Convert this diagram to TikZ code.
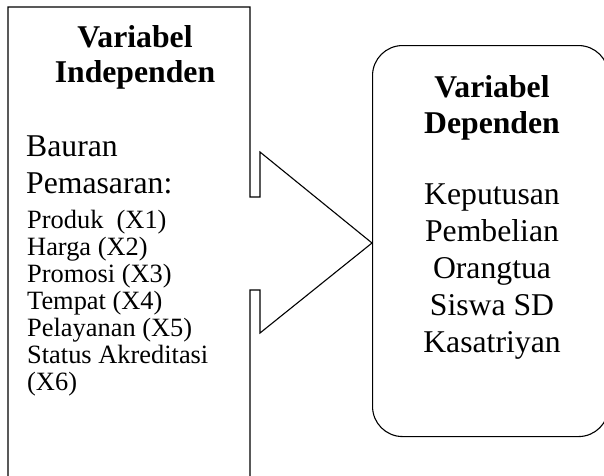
\documentclass[tikz,border=0pt]{standalone}
\usepackage{fontspec}
\setmainfont{Liberation Serif}
\tikzset{
  outline/.style={draw=black, line width=1.1pt, line join=miter},
  bigtxt/.style={inner sep=0pt, font=\fontsize{31.7}{36.8}\selectfont},
  bigbold/.style={inner sep=0pt, font=\fontsize{31.7}{36.8}\selectfont\bfseries},
  smalltxt/.style={inner sep=0pt, font=\fontsize{26.4}{27}\selectfont},
}
\begin{document}
\begin{tikzpicture}[x=1pt,y=-1pt]
\useasboundingbox (0,0) rectangle (604,475);
\clip (0,0) rectangle (604,475);
% right rounded box
\node[outline, rounded corners=30pt, minimum width=236pt, minimum height=391pt,
      anchor=north west, inner sep=0pt] (dep) at (372,45) {};
% left box merged with block arrow
\coordinate (tip) at (372,243);
\draw[outline] (250,290) -- (250,490) -- (8,490) -- (8,7) -- (250,7) -- (250,197)
  -- (260,197) -- (260,152) -- (tip) -- (260,333) -- (260,290) -- cycle;
% left texts
\node[bigbold, anchor=base] (t1) at (135,47) {Variabel};
\node[bigbold, anchor=base] (t2) at (135,82) {Independen};
\node[bigtxt, anchor=base west] (b1) at (26,156) {Bauran};
\node[bigtxt, anchor=base west] (b2) at (26,193) {Pemasaran:};
\node[smalltxt, anchor=base west] (s1) at (27,228) {Produk\ \ (X1)};
\node[smalltxt, anchor=base west] (s2) at (27,255) {Harga (X2)};
\node[smalltxt, anchor=base west] (s3) at (27,282) {Promosi (X3)};
\node[smalltxt, anchor=base west] (s4) at (27,309) {Tempat (X4)};
\node[smalltxt, anchor=base west] (s5) at (27,336) {Pelayanan (X5)};
\node[smalltxt, anchor=base west] (s6) at (27,363) {Status Akreditasi};
\node[smalltxt, anchor=base west] (s7) at (27,390) {(X6)};
% right texts
\node[bigbold, anchor=base] (r1) at (492,97) {Variabel};
\node[bigbold, anchor=base] (r2) at (492,133) {Dependen};
\node[bigtxt, anchor=base] (r3) at (492,204) {Keputusan};
\node[bigtxt, anchor=base] (r4) at (492,241) {Pembelian};
\node[bigtxt, anchor=base] (r5) at (492,278) {Orangtua};
\node[bigtxt, anchor=base] (r6) at (492,315) {Siswa SD};
\node[bigtxt, anchor=base] (r7) at (492,352) {Kasatriyan};
\end{tikzpicture}
\end{document}
